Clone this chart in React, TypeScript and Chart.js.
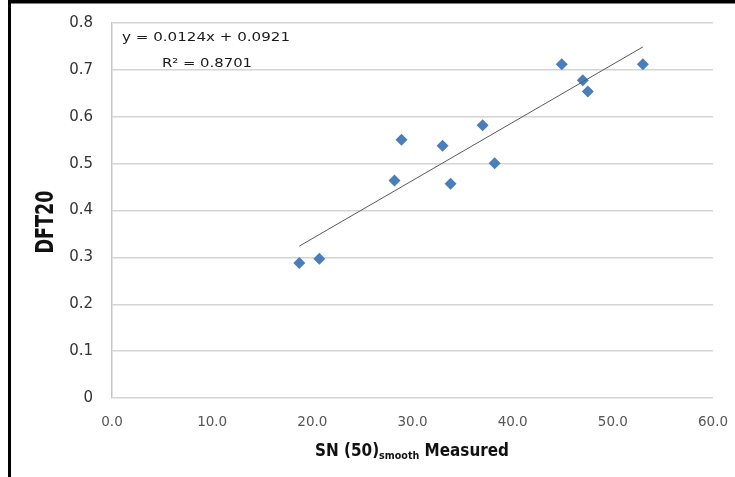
import React, { useEffect, useRef } from 'react';
import { Chart, registerables } from 'chart.js';

Chart.register(...registerables);

// ---- data ----
const snMeasured = [18.7, 20.7, 28.2, 28.9, 33.0, 33.8, 37.0, 38.2, 44.9, 47.0, 47.5, 53.0];
const dft20 = [0.288, 0.297, 0.464, 0.551, 0.538, 0.457, 0.582, 0.501, 0.712, 0.678, 0.654, 0.712];
const trendX = [18.7, 53.0];
const trendY = [0.324, 0.749];
const xTickValues = [0, 10, 20, 30, 40, 50, 60];
const yTickValues = [0, 0.1, 0.2, 0.3, 0.4, 0.5, 0.6, 0.7, 0.8];
const equationText = 'y = 0.0124x + 0.0921';
const r2Text = 'R\u00B2 = 0.8701';
const xTitleMain = 'SN (50)';
const xTitleSub = 'smooth';
const xTitleRest = ' Measured';
const yTitleText = 'DFT20';

const FONT = '"DejaVu Sans", "Liberation Sans", sans-serif';

function drawStretchedLeft(ctx: CanvasRenderingContext2D, text: string, font: string, x: number, y: number, targetW: number) {
  ctx.save();
  ctx.font = font;
  const w = ctx.measureText(text).width;
  ctx.translate(x, y);
  ctx.scale(targetW / w, 1);
  ctx.textAlign = 'left';
  ctx.textBaseline = 'alphabetic';
  ctx.fillText(text, 0, 0);
  ctx.restore();
}

const decorPlugin = {
  id: 'decor',
  beforeDraw(chart: any) {
    const ctx = chart.ctx as CanvasRenderingContext2D;
    ctx.save();
    ctx.fillStyle = '#ffffff';
    ctx.fillRect(0, 0, chart.width, chart.height);
    ctx.fillStyle = '#000000';
    ctx.fillRect(8, 0, chart.width - 8, 3.5);
    ctx.fillRect(8, 0, 3, chart.height);
    ctx.restore();
  },
  afterDraw(chart: any) {
    const ctx = chart.ctx as CanvasRenderingContext2D;
    ctx.save();
    ctx.fillStyle = '#1a1a1a';
    // regression equation
    drawStretchedLeft(ctx, equationText, '12.5px ' + FONT, 122, 41, 168);
    drawStretchedLeft(ctx, r2Text, '12.5px ' + FONT, 162, 67, 90);

    // x axis title with subscript
    const mainFont = 'bold 17.5px ' + FONT;
    const subFont = 'bold 11px ' + FONT;
    ctx.font = mainFont;
    const w1 = ctx.measureText(xTitleMain).width;
    const w3 = ctx.measureText(xTitleRest).width;
    ctx.font = subFont;
    const w2 = ctx.measureText(xTitleSub).width;
    const total = w1 + w2 + w3;
    const sx = 194 / total;
    ctx.save();
    ctx.translate(315, 456);
    ctx.scale(sx, 1);
    ctx.textAlign = 'left';
    ctx.textBaseline = 'alphabetic';
    ctx.fillStyle = '#111111';
    ctx.font = mainFont;
    ctx.fillText(xTitleMain, 0, 0);
    ctx.font = subFont;
    ctx.fillText(xTitleSub, w1, 3);
    ctx.font = mainFont;
    ctx.fillText(xTitleRest, w1 + w2, 0);
    ctx.restore();

    // y axis title (rotated)
    ctx.save();
    const yFont = 'bold 24px ' + FONT;
    ctx.font = yFont;
    const wy = ctx.measureText(yTitleText).width;
    ctx.translate(53, 222);
    ctx.rotate(-Math.PI / 2);
    ctx.scale(63 / wy, 1);
    ctx.textAlign = 'center';
    ctx.textBaseline = 'alphabetic';
    ctx.fillStyle = '#111111';
    ctx.fillText(yTitleText, 0, 0);
    ctx.restore();

    ctx.restore();
  },
};

export default function App() {
  const canvasRef = useRef<HTMLCanvasElement | null>(null);

  useEffect(() => {
    if (!canvasRef.current) return;
    const chart = new Chart(canvasRef.current, {
      type: 'scatter',
      data: {
        datasets: [
          {
            type: 'line',
            label: 'Trend',
            data: trendX.map((x, i) => ({ x, y: trendY[i] })),
            borderColor: '#5a5a5a',
            borderWidth: 1,
            pointRadius: 0,
            fill: false,
            order: 0,
          } as any,
          {
            type: 'scatter',
            label: 'DFT20',
            data: snMeasured.map((x, i) => ({ x, y: dft20[i] })),
            pointStyle: 'rectRot',
            pointRadius: 6,
            backgroundColor: '#4a7ebb',
            borderColor: '#4a7ebb',
            borderWidth: 0,
            order: 1,
          },
        ],
      },
      options: {
        animation: false,
        responsive: false,
        layout: { padding: { left: 0, right: 22, top: 23, bottom: 0 } },
        plugins: {
          legend: { display: false },
          tooltip: { enabled: false },
          title: { display: false },
        },
        scales: {
          x: {
            type: 'linear',
            min: 0,
            max: 60,
            afterBuildTicks: (s: any) => {
              s.ticks = xTickValues.map((v) => ({ value: v }));
            },
            afterFit: (s: any) => {
              s.height = 79;
              s.paddingLeft = 0;
              s.paddingRight = 0;
            },
            grid: { display: false, drawTicks: false },
            border: { display: false },
            ticks: {
              padding: 16,
              color: '#555555',
              font: { family: FONT, size: 13.5 },
              maxRotation: 0,
              callback: (v: any) => Number(v).toFixed(1),
            },
          },
          y: {
            type: 'linear',
            min: 0,
            max: 0.8,
            afterBuildTicks: (s: any) => {
              s.ticks = yTickValues.map((v) => ({ value: v }));
            },
            afterFit: (s: any) => {
              s.width = 112;
              s.paddingTop = 0;
              s.paddingBottom = 0;
            },
            grid: { color: '#d4d4d4', lineWidth: 1.5, drawTicks: false },
            border: { display: true, color: '#c8c8c8', width: 1.5 },
            ticks: {
              padding: 19,
              color: '#333333',
              font: { family: FONT, size: 15 },
              callback: (v: any) => (Number(v) === 0 ? '0' : Number(v).toFixed(1)),
            },
          },
        },
      },
      plugins: [decorPlugin],
    });
    return () => chart.destroy();
  }, []);

  return (
    <div style={{ position: 'absolute', left: 0, top: 0, width: 735, height: 477 }}>
      <canvas ref={canvasRef} width={735} height={477} style={{ display: 'block' }} />
    </div>
  );
}
